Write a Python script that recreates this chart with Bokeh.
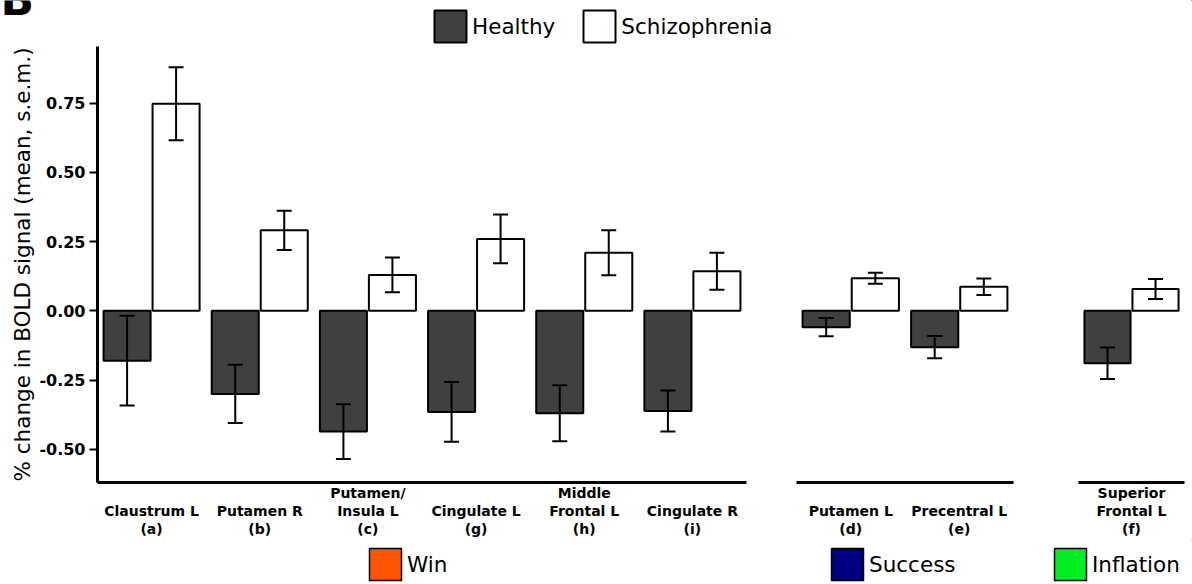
from bokeh.plotting import figure
from bokeh.models import (ColumnDataSource, Range1d, FixedTicker, NumeralTickFormatter,
                          Whisker, TeeHead, Legend, LegendItem, Label)
from bokeh.layouts import row, column
from bokeh.transform import dodge
from bokeh.embed import file_html
from bokeh.resources import INLINE

# ---------------- data ----------------
p1_labels = ["Claustrum L\n(a)", "Putamen R\n(b)", "Putamen/\nInsula L\n(c)",
             "Cingulate L\n(g)", "Middle\nFrontal L\n(h)", "Cingulate R\n(i)"]
p1_healthy = [-0.180, -0.300, -0.436, -0.365, -0.370, -0.362]
p1_healthy_sem = [0.162, 0.105, 0.099, 0.108, 0.101, 0.074]
p1_schizo = [0.748, 0.291, 0.130, 0.260, 0.210, 0.143]
p1_schizo_sem = [0.132, 0.071, 0.063, 0.088, 0.081, 0.067]

p2_labels = ["Putamen L\n(d)", "Precentral L\n(e)"]
p2_healthy = [-0.059, -0.131]
p2_healthy_sem = [0.033, 0.040]
p2_schizo = [0.118, 0.087]
p2_schizo_sem = [0.020, 0.030]

p3_labels = ["Superior\nFrontal L\n(f)"]
p3_healthy = [-0.189]
p3_healthy_sem = [0.057]
p3_schizo = [0.079]
p3_schizo_sem = [0.036]

y_ticks = [-0.50, -0.25, 0.00, 0.25, 0.50, 0.75]
group_names = ["Healthy", "Schizophrenia"]
group_colors = ["#404040", "#ffffff"]
condition_names = ["Win", "Success", "Inflation"]
condition_colors = ["#ff5500", "#000080", "#00ee22"]

FONT = "DejaVu Sans"
W = 1192
TOP_H = 46
ROW_H = 494
BOT_H = 44
yr = Range1d(-0.62, 0.955)
OFF = 0.2265
BW = 0.435


def make_panel(labels, hm, hs, sm, ss, width, bl, br, show_y):
    n = len(labels)
    xs = list(range(1, n + 1))
    src = ColumnDataSource(dict(
        x=xs, hm=hm, sm=sm,
        hu=[m + s for m, s in zip(hm, hs)], hl=[m - s for m, s in zip(hm, hs)],
        su=[m + s for m, s in zip(sm, ss)], sl=[m - s for m, s in zip(sm, ss)],
    ))
    p = figure(width=width, height=ROW_H, x_range=Range1d(0.5, n + 0.5), y_range=yr,
               output_backend="svg", toolbar_location=None,
               min_border_left=bl, min_border_right=br, min_border_top=0,
               min_border_bottom=57,
               y_axis_location="left" if show_y else None, x_axis_location="below")
    p.vbar(x=dodge("x", -OFF), top="hm", bottom=0, width=BW, source=src,
           fill_color=group_colors[0], line_color="black", line_width=2)
    p.vbar(x=dodge("x", OFF), top="sm", bottom=0, width=BW, source=src,
           fill_color=group_colors[1], line_color="black", line_width=2)
    for base, up, lo in ((dodge("x", -OFF), "hu", "hl"), (dodge("x", OFF), "su", "sl")):
        w = Whisker(base=base, upper=up, lower=lo, source=src, line_width=2,
                    line_color="black", level="annotation",
                    upper_head=TeeHead(size=15, line_width=2, line_color="black"),
                    lower_head=TeeHead(size=15, line_width=2, line_color="black"))
        p.add_layout(w)

    ax = p.xaxis[0]
    ax.ticker = FixedTicker(ticks=xs)
    ax.major_label_overrides = {x: ("\n" + lab if lab.count("\n") == 1 else lab)
                                for x, lab in zip(xs, labels)}
    ax.major_label_text_font = FONT
    ax.major_label_text_font_size = "14px"
    ax.major_label_text_font_style = "bold"
    ax.major_label_text_color = "black"
    ax.major_label_text_line_height = 1.15
    ax.major_label_standoff = 2
    ax.major_tick_out = 0
    ax.major_tick_in = 0
    ax.minor_tick_out = 0
    ax.minor_tick_in = 0
    ax.axis_line_width = 3
    ax.axis_line_color = "black"

    if show_y:
        ay = p.yaxis[0]
        ay.ticker = FixedTicker(ticks=y_ticks)
        ay.formatter = NumeralTickFormatter(format="0.00")
        ay.axis_label = "% change in BOLD signal (mean, s.e.m.)"
        ay.axis_label_text_font = FONT
        ay.axis_label_text_font_size = "21.5px"
        ay.axis_label_text_font_style = "normal"
        ay.axis_label_text_color = "black"
        ay.axis_label_standoff = 1
        ay.major_label_text_font = FONT
        ay.major_label_text_font_size = "16px"
        ay.major_label_text_font_style = "bold"
        ay.major_label_text_color = "black"
        ay.major_label_standoff = 4
        ay.major_tick_out = 8
        ay.major_tick_in = 0
        ay.major_tick_line_width = 2
        ay.minor_tick_out = 0
        ay.minor_tick_in = 0
        ay.axis_line_width = 3
        ay.axis_line_color = "black"

    p.xgrid.visible = False
    p.ygrid.visible = False
    p.outline_line_color = None
    p.background_fill_color = "white"
    return p


def blank_fig(h):
    p = figure(width=W, height=h, x_range=Range1d(0, 1), y_range=Range1d(0, 1),
               output_backend="svg", toolbar_location=None,
               x_axis_location=None, y_axis_location=None,
               min_border_left=0, min_border_right=0, min_border_top=0,
               min_border_bottom=0)
    p.grid.visible = False
    p.outline_line_color = None
    return p


def add_legend(p, names, colors, loc, spacing=0, lw=2):
    items = []
    for name, col in zip(names, colors):
        # a key-only renderer: its single bar lies outside the blank figure's view
        r = p.vbar(x=[5], top=[6], bottom=[5], width=0.4, fill_color=col,
                   line_color="black", line_width=lw)
        items.append(LegendItem(label=name, renderers=[r]))
    lg = Legend(items=items, location=loc, orientation="horizontal",
                glyph_width=40, glyph_height=40, label_standoff=2, spacing=spacing,
                padding=0, margin=0, border_line_alpha=0, background_fill_alpha=0,
                label_text_font=FONT, label_text_font_size="21.5px",
                label_text_color="black")
    p.add_layout(lg)
    return lg


f1 = make_panel(p1_labels, p1_healthy, p1_healthy_sem, p1_schizo, p1_schizo_sem,
                width=771, bl=97, br=25, show_y=True)
f2 = make_panel(p2_labels, p2_healthy, p2_healthy_sem, p2_schizo, p2_schizo_sem,
                width=266, bl=25, br=24, show_y=False)
f3 = make_panel(p3_labels, p3_healthy, p3_healthy_sem, p3_schizo, p3_schizo_sem,
                width=155, bl=41, br=8, show_y=False)

top = blank_fig(TOP_H)
add_legend(top, group_names, group_colors, (430, 0), spacing=24, lw=2)
top.add_layout(Label(x=0, y=47, x_units="screen", y_units="screen", text="B",
                     text_font=FONT, text_font_size="44px", text_font_style="bold",
                     text_color="black", text_baseline="alphabetic"))

bottom = blank_fig(BOT_H)
add_legend(bottom, [condition_names[0]], [condition_colors[0]], (365, 0), lw=1.5)
add_legend(bottom, [condition_names[1]], [condition_colors[1]], (827, 0), lw=1.5)
add_legend(bottom, [condition_names[2]], [condition_colors[2]], (1050, 0), lw=1.5)

layout = column(top, row(f1, f2, f3), bottom)
open("out.html", "w").write(file_html(layout, INLINE))
